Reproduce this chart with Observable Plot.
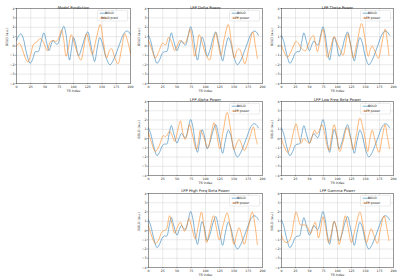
<!DOCTYPE html>
<html><head><meta charset="utf-8">
<script src="https://cdn.jsdelivr.net/npm/d3@7"></script>
<script src="https://cdn.jsdelivr.net/npm/@observablehq/plot@0.6"></script>
<style>
body{margin:0;background:#fff;}
#fig{position:relative;width:400px;height:278px;overflow:hidden;background:#fff;}
#fig svg{position:absolute;overflow:visible;}
</style></head><body><div id="fig"></div>
<script>
// ---- tick values ----
const xTicks = [0,25,50,75,100,125,150,175,200];
const yTicks = [-4,-3,-2,-1,0,1,2,3,4];

// ---- Model Prediction panel ----
const modelBold = [[0,0.6],[4,1.1],[8,1.3],[12,0.8],[17,-0.6],[24,-1.85],[29,-1.3],[33,-0.6],[38,-0.6],[43,0.4],[48,1.4],[52,0.6],[57,-0.5],[61,0.2],[64,0.6],[68,0.3],[72,0.2],[78,1.3],[83,2.1],[87,1.2],[90,-0.5],[93,-1.5],[96,-0.5],[100,0.9],[104,0.2],[109,-1.05],[114,-0.3],[120,0.9],[125,1.5],[129,0.6],[133,-0.7],[137,-1.65],[142,-0.1],[146,0.9],[150,0.4],[157,-1.2],[164,-2.0],[170,-1.5],[176,-0.6],[182,0.4],[188,1.3],[193,1.6],[197,1.5],[200,1.2]];
const modelPred = [[0,0],[5,0.3],[10,-0.3],[15,-1.2],[20,-1.7],[25,-0.9],[30,0.2],[35,0.4],[42,0.8],[48,0.3],[54,-0.5],[59,0.4],[63,0.6],[70,0.5],[75,1.0],[79,1.7],[83,0.6],[87,-1.1],[91,-0.2],[96,1.2],[101,0.4],[107,-0.8],[113,-1.5],[118,-0.2],[123,1.3],[128,0.2],[133,-0.9],[140,0.8],[147,2.3],[152,0.6],[158,-1.3],[163,-0.5],[167,-0.3],[172,-1.2],[178,-1.9],[184,-0.4],[190,1.3],[195,0.5],[200,-0.8]];

// ---- BOLD signal shared by LFP panels ----
const lfpBold = [[0,1.15],[4,0.5],[9,-0.8],[15,-1.85],[20,-1.4],[24,-0.8],[28,-0.6],[32,-0.6],[36,0.4],[40,1.4],[44,0.6],[50,-0.5],[54,0.1],[58,0.55],[62,0.2],[65,0.1],[70,1.2],[74,2.05],[78,1.2],[82,-0.5],[86,-1.5],[89,-0.6],[94,0.95],[98,0.3],[103,-1.1],[108,-0.4],[113,0.8],[118,1.5],[122,0.6],[126,-0.6],[130,-1.6],[135,-0.2],[140,0.9],[144,0.4],[150,-1.2],[156,-2.0],[162,-1.5],[168,-0.6],[174,0.4],[180,1.3],[185,1.6],[189,1.5],[193,1.15]];

// ---- LFP power series ----
const deltaPower = [[0,0.6],[5,-0.2],[12,-1.3],[18,-0.6],[25,0.3],[30,0.1],[35,0.9],[40,0.5],[46,-0.5],[51,0.1],[55,0.6],[60,0.4],[64,0.3],[69,1.0],[73,1.8],[77,0.5],[81,-1.1],[85,0.0],[89,1.2],[94,0.4],[100,-0.8],[107,-1.5],[112,-0.2],[118,1.4],[122,0.3],[127,-1.0],[133,0.8],[140,2.3],[145,0.6],[151,-1.3],[155,-0.5],[159,-0.3],[164,-1.0],[169,-1.9],[176,-0.2],[183,1.5],[187,0.2],[191,-1.3]];
const thetaPower = [[0,0.1],[5,-0.7],[11,-1.2],[17,-0.6],[22,0.1],[26,0.5],[30,0.3],[34,-0.1],[38,-0.4],[43,-0.5],[48,0.2],[53,0.9],[57,1.1],[61,0.2],[64,-0.6],[68,0.3],[74,1.8],[78,0.5],[82,-1.2],[87,-0.4],[94,1.0],[100,0.2],[106,-0.6],[110,-1.0],[114,0.0],[118,1.3],[123,0.2],[128,-1.3],[135,0.4],[143,2.4],[149,0.8],[155,-1.1],[159,-0.3],[162,0.0],[167,-0.6],[173,-1.3],[179,0.2],[185,1.8],[189,0.5],[192,-1.0]];
const alphaPower = [[0,0.65],[5,-0.4],[12,-1.4],[18,-0.9],[26,0.3],[30,0.2],[33,0.4],[37,0.8],[41,0.4],[46,-0.3],[51,0.8],[56,1.9],[60,0.7],[64,-0.1],[68,0.5],[72,1.5],[77,0.4],[84,-1.2],[88,-0.2],[91,0.9],[97,0.1],[104,-1.0],[110,0.5],[115,1.7],[120,0.4],[125,-1.1],[131,0.8],[138,2.8],[144,1.0],[150,-1.2],[155,-0.5],[159,-0.1],[163,-0.6],[168,-1.3],[176,-0.2],[184,1.25],[188,0.1],[191,-0.6]];
const lowBetaPower = [[0,0.0],[5,-0.9],[11,-1.5],[16,-0.8],[21,0.6],[26,1.6],[30,0.6],[35,-0.5],[40,0.0],[45,-0.3],[50,-0.5],[55,0.3],[59,0.9],[63,0.5],[67,0.8],[72,1.5],[77,0.6],[81,-0.7],[85,-1.3],[89,0.0],[94,1.5],[99,0.2],[104,-1.4],[110,-0.3],[117,1.2],[123,0.1],[128,-1.2],[134,0.5],[140,2.2],[147,0.7],[154,-1.4],[158,0.0],[162,0.9],[167,-0.2],[174,-1.5],[180,0.2],[185,1.5],[189,0.2],[193,-1.1]];
const highBetaPower = [[0,0.5],[5,-0.5],[12,-1.4],[18,-1.0],[23,-0.2],[27,0.0],[31,0.1],[37,1.6],[41,0.8],[46,-0.3],[51,0.4],[56,0.9],[60,0.3],[63,-0.1],[67,0.5],[71,1.3],[76,0.3],[82,-0.9],[87,0.4],[93,2.0],[97,0.5],[102,-1.3],[108,0.2],[114,1.6],[119,0.3],[124,-1.0],[131,0.6],[138,1.9],[144,0.2],[150,-1.5],[155,-0.3],[159,0.3],[163,-0.4],[168,-1.5],[175,0.3],[182,2.0],[187,0.5],[191,-1.5]];
const gammaPower = [[0,-0.5],[4,-1.1],[8,-1.3],[13,-1.2],[18,-0.5],[22,1.0],[26,2.0],[30,1.3],[34,0.6],[40,0.6],[45,0.5],[52,-0.3],[56,0.3],[60,0.9],[63,0.2],[66,-0.8],[70,0.2],[74,1.5],[79,0.3],[84,-1.3],[89,-0.3],[94,1.0],[99,0.0],[103,-1.5],[108,-0.2],[114,1.6],[119,0.3],[125,-1.3],[132,0.3],[140,2.0],[146,0.4],[152,-1.3],[156,-0.5],[160,0.2],[165,-0.5],[171,-1.4],[177,0.2],[183,1.6],[188,0.3],[192,-1.1]];

const panels = [
  {title:"Model Prediction", bold:modelBold, other:modelPred, label:"BOLD pred", col:0, row:0},
  {title:"LFP Delta Power", bold:lfpBold, other:deltaPower, label:"LFP power", col:1, row:0},
  {title:"LFP Theta Power", bold:lfpBold, other:thetaPower, label:"LFP power", col:2, row:0},
  {title:"LFP Alpha Power", bold:lfpBold, other:alphaPower, label:"LFP power", col:1, row:1},
  {title:"LFP Low Freq Beta Power", bold:lfpBold, other:lowBetaPower, label:"LFP power", col:2, row:1},
  {title:"LFP High Freq Beta Power", bold:lfpBold, other:highBetaPower, label:"LFP power", col:1, row:2},
  {title:"LFP Gamma Power", bold:lfpBold, other:gammaPower, label:"LFP power", col:2, row:2}
];

// ---- layout ----
const colX = [[16,130],[148,262],[281,393]];
const rowY = [[7.5,82.5],[100.5,174.5],[192.5,266.5]];
const titleDy = [-2.6,-3.6,-4.4];
const ML = 20, MR = 6, MT = 10, MB = 12;
const BLUE = "#1f77b4", ORANGE = "#ff7f0e";
const fmt = d => d < 0 ? "\u2212" + (-d) : String(d);
const fig = document.getElementById("fig");

for (const p of panels) {
  const [x0, x1] = colX[p.col], [y0, y1] = rowY[p.row];
  const fw = x1 - x0, fh = y1 - y0;
  const svg = Plot.plot({
    width: fw + ML + MR, height: fh + MT + MB,
    marginLeft: ML, marginRight: MR, marginTop: MT, marginBottom: MB,
    style: {fontSize: "3.2px", fontFamily: "DejaVu Sans", color: "#262626", background: "transparent"},
    x: {domain: [0, 200]},
    y: {domain: [-4, 4]},
    marks: [
      Plot.gridX(xTicks, {stroke: "#b0b0b0", strokeOpacity: 0.55, strokeWidth: 0.5}),
      Plot.gridY(yTicks, {stroke: "#b0b0b0", strokeOpacity: 0.55, strokeWidth: 0.5}),
      Plot.line(p.bold, {x: d => d[0], y: d => d[1], stroke: BLUE, strokeWidth: 0.8, strokeOpacity: 0.7, curve: "catmull-rom"}),
      Plot.line(p.other, {x: d => d[0], y: d => d[1], stroke: ORANGE, strokeWidth: 0.8, strokeOpacity: 0.7, curve: "catmull-rom"}),
      Plot.frame({stroke: "#333", strokeWidth: 0.45}),
      Plot.axisX(xTicks, {tickSize: 1.2, tickPadding: 0.8, label: null, stroke: "#333", strokeWidth: 0.4, tickFormat: fmt}),
      Plot.axisY(yTicks, {tickSize: 1.2, tickPadding: 0.8, label: null, stroke: "#333", strokeWidth: 0.4, tickFormat: fmt}),
      Plot.text([p.title], {text: d => d, frameAnchor: "top", dy: titleDy[p.row], fontSize: 3.8}),
      Plot.text(["TR index"], {text: d => d, frameAnchor: "bottom", dy: 8.2}),
      Plot.text(["BOLD (a.u.)"], {text: d => d, frameAnchor: "left", dx: -9.5, rotate: -90})
    ]
  });
  svg.style.left = (x0 - ML) + "px";
  svg.style.top = (y0 - MT) + "px";
  // legend
  const lw = 30, lh = 10.6;
  const lx = ML + fw - 2.5 - lw, ly = MT + 2.4;
  const g = d3.select(svg).append("g").attr("transform", `translate(${lx},${ly})`)
    .attr("font-family", "DejaVu Sans").attr("font-size", 3.1);
  g.append("rect").attr("width", lw).attr("height", lh).attr("rx", 0.8)
    .attr("fill", "white").attr("fill-opacity", 0.8).attr("stroke", "#d0d0d0").attr("stroke-width", 0.4);
  [["BOLD", BLUE, 2.8], [p.label, ORANGE, 7.6]].forEach(([t, c, yy]) => {
    g.append("line").attr("x1", 2.2).attr("x2", 9.6).attr("y1", yy).attr("y2", yy)
      .attr("stroke", c).attr("stroke-width", 0.8).attr("stroke-opacity", 0.7);
    g.append("text").attr("x", 11.8).attr("y", yy).attr("dy", "0.35em").attr("fill", "#262626").text(t);
  });
  fig.appendChild(svg);
}
</script>
</body></html>
